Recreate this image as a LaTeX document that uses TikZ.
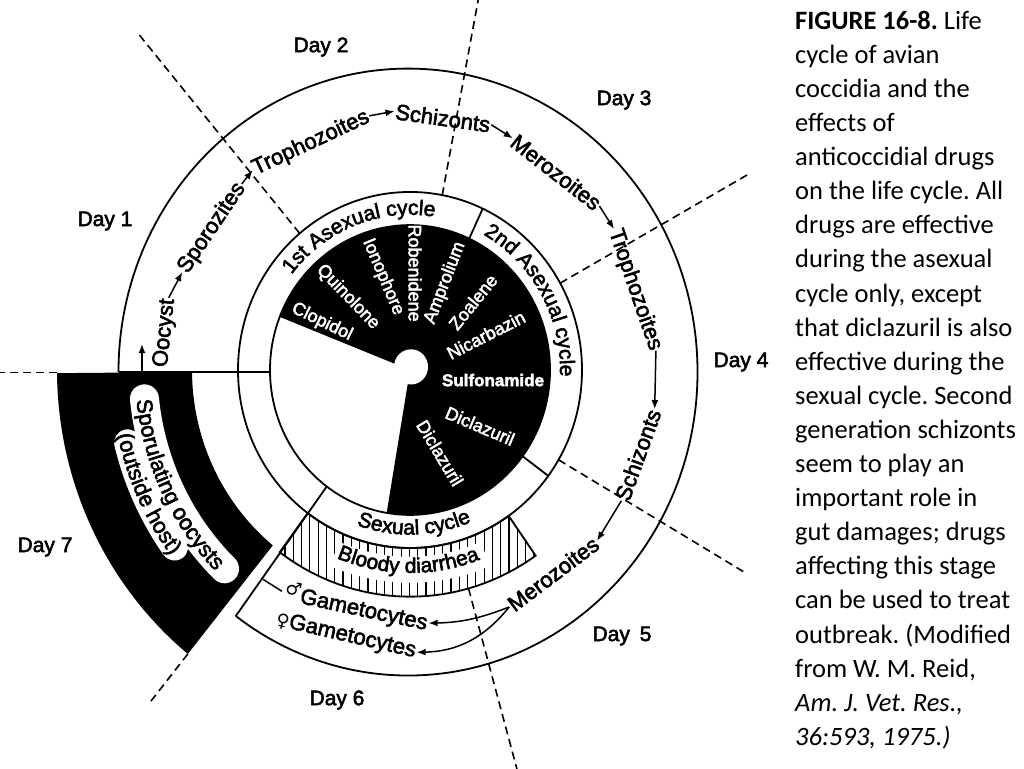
\documentclass[tikz,border=0pt]{standalone}
\usepackage{fontspec}
\setmainfont{Liberation Sans}[FakeBold=2.5]
\newfontfamily\capfont{Carlito}
\newfontfamily\sexfont{DejaVu Sans}
\usepackage{tikz}
\usetikzlibrary{positioning,arrows.meta,decorations.text}
\frenchspacing

\begin{document}
\begin{tikzpicture}[
    x=1pt, y=1pt,
    day/.style={font=\fontsize{21}{24}\selectfont, inner sep=1pt},
    stage/.style={font=\fontsize{22}{24}\selectfont, inner sep=1pt},
    drug/.style={font=\fontsize{18}{20}\selectfont, text=white, inner sep=1pt},
    captxt/.style={font=\capfont\fontsize{26.5}{30}\selectfont, anchor=base west, inner sep=0pt},
    ring/.style={line width=1.8pt},
    daysplit/.style={dash pattern=on 8pt off 5pt, line width=1.6pt},
    arr/.style={-{Latex[length=9pt,width=7pt]}, line width=1.5pt},
    halo/.style={white, line width=29pt, line cap=round},
    arclabel/.style={decorate, decoration={text along path, text align=center, text={|\fontsize{21}{21}\selectfont|#1}}},
]
\fill[white] (0,0) rectangle (1024,768);
\useasboundingbox (0,0) rectangle (1024,768);

\node[day] (day1) at (105,547) {Day 1};
\node[day] (day2) at (321,721) {Day 2};
\node[day] (day3) at (624,668) {Day 3};
\node[day] (day4) at (741,406) {Day 4};
\node[day] (day5) at (622,132) {Day\hspace{4pt} 5};
\node[day] (day6) at (337,68) {Day 6};
\node[day] (day7) at (45,221) {Day 7};

\begin{scope}[shift={(410,398)}, y=1.035pt]
\fill (180.5:218) arc[start angle=180.5, end angle=231, radius=218]
  -- (231:353) arc[start angle=231, end angle=180.5, radius=353] -- cycle;
\draw[halo] (186:267) arc[start angle=186, end angle=226, radius=267];
\draw[halo, line width=27pt] (194:291) arc[start angle=194, end angle=216, radius=291];
\fill (0,0) -- (-99.6:140) arc[start angle=-99.6, end angle=158.5, radius=140] -- cycle;
\fill[white] (1,3) circle[radius=17];

\begin{scope}
\clip (233.5:172) arc[start angle=233.5, end angle=305, radius=172]
  -- (305:219) arc[start angle=305, end angle=233.5, radius=219] -- cycle;
\foreach \hx in {-150,-141.7,...,150}
  \draw[line width=1.2pt] (\hx,-235) -- (\hx,-120);
\end{scope}
\draw[white, line width=26pt] (247:193) arc[start angle=247, end angle=293, radius=193];
\draw[ring] (233.5:172) arc[start angle=233.5, end angle=305, radius=172]
  -- (305:219) arc[start angle=305, end angle=233.5, radius=219] -- cycle;

\draw[ring] (0,0) circle[radius=140];
\draw[ring] (0,0) circle[radius=172];
\draw[ring] (-291.5,-2) arc[start angle=180, end angle=-126.5, x radius=289.5, y radius=293.2] coordinate (outerend);
\draw[ring] (-140,-2) -- (-291.5,-2);
\draw[ring] (233.5:140) -- (outerend);
\draw[ring] (65:140) -- (65:172);
\draw[ring] (-36.5:140) -- (-36.5:172);

\draw[daysplit] (129.9:172) -- (129.9:424);
\draw[daysplit] (79.2:172) -- (79.2:370);
\draw[daysplit] (29.2:172) -- (29.2:386);
\draw[daysplit] (-30.3:172) -- (-30.3:386);
\draw[daysplit] (-74.5:219) -- (-74.5:400);
\draw[daysplit] (231:353) -- (231:416);
\draw[daysplit] (-353,-2.5) -- (-415,-2.5);

\node[drug, rotate=-26] (clopidol) at (152.2:99.5) {Clopidol};
\node[drug, rotate=-46] (quinolone) at (131.3:93.9) {Quinolone};
\node[drug, rotate=-67] (ionophore) at (106.7:93.9) {Ionophore};
\node[drug, rotate=-90] (robenidene) at (86.9:93.8) {Robenidene};
\node[drug, rotate=69] (amprolium) at (67.4:91.1) {Amprolium};
\node[drug, rotate=51] (zoalene) at (46.2:91) {Zoalene};
\node[drug, rotate=27] (nicarbazin) at (24:83.2) {Nicarbazin};
\node[drug, font=\bfseries\fontsize{17}{19}\selectfont] (sulfonamide) at (-6.7:83.6) {Sulfonamide};
\node[drug, rotate=-23] (diclazurila) at (-37.7:88.5) {Diclazuril};
\node[drug, rotate=-59] (diclazurilb) at (-69.5:85.6) {Diclazuril};

\path[arclabel={1st Asexual cycle}] (175:150) arc[start angle=175, end angle=47, radius=150];
\path[arclabel={2nd Asexual cycle}] (89.6:150) arc[start angle=89.6, end angle=-30.4, radius=150];
\path[arclabel={Sexual cycle}] (211.5:159) arc[start angle=211.5, end angle=331.5, radius=159];
\path[arclabel={Bloody diarrhea}] (209.5:196) arc[start angle=209.5, end angle=329.5, radius=196];
\path[decorate, decoration={text along path, text align=center, text={|\fontsize{22}{22}\selectfont|Sporulating oocysts}}]
  (146:275) arc[start angle=146, end angle=266, radius=275];
\path[decorate, decoration={text along path, text align=center, text={|\fontsize{22}{22}\selectfont|(outside host)}}]
  (145:299) arc[start angle=145, end angle=265, radius=299];

\node[stage, rotate=84] (oocyst) at (171.7:247.6) {Oocyst};
\node[stage, rotate=56] (sporoz) at (145.3:240.9) {Sporozites};
\node[stage, rotate=25] (troph1) at (114.3:240.6) {Trophozoites};
\node[stage, rotate=-8] (schiz1) at (82.3:245.7) {Schizonts};
\node[stage, rotate=-38] (meroz1) at (52.6:240.6) {Merozoites};
\node[stage, rotate=-71] (troph2) at (19:237.9) {Trophozoites};
\node[stage, rotate=70] (schiz2) at (-19.8:242.3) {Schizonts};
\node[stage, rotate=37] (meroz2) at (-54:243.5) {Merozoites};
\node[stage, rotate=-12] (gamm) at (256.8:236) {{\sexfont\fontsize{18}{18}\selectfont\raisebox{6pt}{♂}}Gametocytes};
\node[stage, rotate=-13] (gamf) at (256:264.8) {{\sexfont\fontsize{18}{18}\selectfont ♀}Gametocytes};

\coordinate (spotop) at (-268,-2.5);
\coordinate (spotip) at (-268,25);
\coordinate (gamlead) at (234:250);

\draw[arr] (spotop) -- (spotip);
\draw[arr] (oocyst.east) -- (sporoz.west);
\draw[arr] (sporoz.east) -- (troph1.west);
\draw[arr] (troph1.east) -- (schiz1.west);
\draw[arr] (schiz1.east) -- (meroz1.west);
\draw[arr] (meroz1.east) -- (troph2.west);
\draw[arr] (troph2.east) -- (schiz2.east);
\draw[arr] (schiz2.west) -- (meroz2.east);
\draw[arr] (meroz2.west) to[bend left=10] (gamm.east);
\draw[arr] (meroz2.west) to[bend left=25] (gamf.east);
\draw[line width=1.5pt, shorten >=2pt] (gamlead) -- (gamm.west);
\end{scope}

\foreach \capline [count=\i] in {
  {\textbf{FIGURE 16-8.} Life},
  {cycle of avian},
  {coccidia and the},
  {effects of},
  {anticoccidial drugs},
  {on the life cycle. All},
  {drugs are effective},
  {during the asexual},
  {cycle only, except},
  {that diclazuril is also},
  {effective during the},
  {sexual cycle. Second},
  {generation schizonts},
  {seem to play an},
  {important role in},
  {gut damages; drugs},
  {affecting this stage},
  {can be used to treat},
  {outbreak. (Modified},
  {from W. M. Reid,},
  {\textit{Am. J. Vet. Res.,}},
  {\textit{36:593, 1975.)}}}
  \node[captxt] (cap\i) at (795,{772.8-34.1*\i}) {\capline};
\end{tikzpicture}
\end{document}
